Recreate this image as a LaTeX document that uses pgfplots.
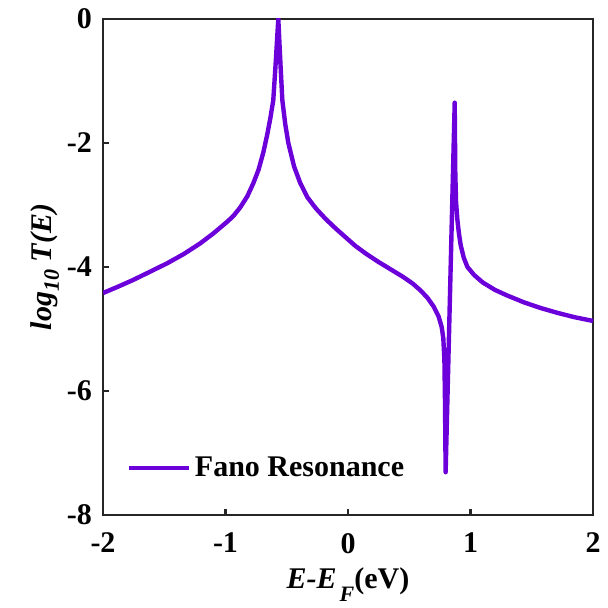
\documentclass[border=0pt]{standalone}
\usepackage{pgfplots}
\pgfplotsset{compat=1.18}
\usepackage{fontspec}
\setmainfont{Liberation Serif}
\definecolor{fano}{RGB}{108,0,218}
\definecolor{axgray}{RGB}{38,38,38}
\begin{document}
\begin{tikzpicture}
\begin{axis}[
  name=ax,
  scale only axis,
  width=245pt, height=248pt,
  xmin=-2, xmax=2, ymin=-8, ymax=0,
  xtick={-2,-1,0,1,2}, ytick={-8,-6,-4,-2,0},
  tick align=inside,
  xtick pos=bottom, ytick pos=left,
  major tick length=3pt,
  axis line style={axgray, line width=1.1pt},
  tick style={axgray, line width=1.1pt},
  /pgf/number format/assume math mode=true,
  tick label style={font=\fontsize{15}{17}\selectfont\bfseries, text=black},
  xticklabel style={yshift=-5.5pt},
  yticklabel style={xshift=-2pt},
  xlabel={\fontsize{15}{17}\selectfont\bfseries\itshape E-E\hspace{1.5pt}\raisebox{-0.9ex}{\fontsize{11}{12}\selectfont F}\upshape(eV)},
  ylabel={\fontsize{15}{17}\selectfont\bfseries\itshape log\raisebox{-0.55ex}{\fontsize{11}{12}\selectfont 10} T(E)},
  xlabel style={yshift=-0.5pt},
  ylabel style={yshift=-3pt},
  legend style={draw=none, fill=none, at={(rel axis cs:0.035,0.095)}, anchor=west,
    font=\fontsize{15}{17}\selectfont\bfseries, legend cell align=left},
  legend image code/.code={\draw[#1] (0pt,0pt) -- (30pt,0pt);},
]
\addplot[fano, line width=2.2pt, line join=round] coordinates {
(-2.000,-4.42) (-1.880,-4.32) (-1.755,-4.21) (-1.620,-4.08) (-1.476,-3.94)
(-1.340,-3.79) (-1.207,-3.62) (-1.100,-3.46) (-0.986,-3.27) (-0.937,-3.18)
(-0.880,-3.04) (-0.822,-2.86) (-0.773,-2.65) (-0.730,-2.43) (-0.691,-2.15)
(-0.660,-1.87) (-0.634,-1.60) (-0.610,-1.31) (-0.590,-0.70) (-0.569,0.00)
(-0.552,-0.70) (-0.536,-1.31) (-0.512,-1.70) (-0.487,-2.00) (-0.440,-2.38)
(-0.389,-2.65) (-0.330,-2.88) (-0.260,-3.06) (-0.180,-3.23) (-0.100,-3.38)
(-0.020,-3.52) (0.060,-3.66) (0.150,-3.79) (0.250,-3.92) (0.350,-4.04)
(0.450,-4.16) (0.530,-4.27) (0.593,-4.38) (0.650,-4.50) (0.700,-4.64)
(0.740,-4.80) (0.765,-4.97) (0.778,-5.15) (0.787,-5.50) (0.792,-6.20)
(0.797,-7.31) (0.871,-1.35) (0.876,-2.50) (0.882,-2.95) (0.893,-3.24)
(0.905,-3.45) (0.920,-3.65) (0.945,-3.85) (0.975,-4.00) (1.030,-4.13)
(1.100,-4.25) (1.200,-4.37) (1.300,-4.46) (1.436,-4.57) (1.570,-4.66)
(1.710,-4.74) (1.850,-4.81) (2.000,-4.87)
};
\addlegendentry{Fano Resonance}
\end{axis}
\path ([xshift=-51.5pt,yshift=-46.5pt]ax.south west) rectangle ([xshift=3pt,yshift=9.5pt]ax.north east);
\end{tikzpicture}
\end{document}
